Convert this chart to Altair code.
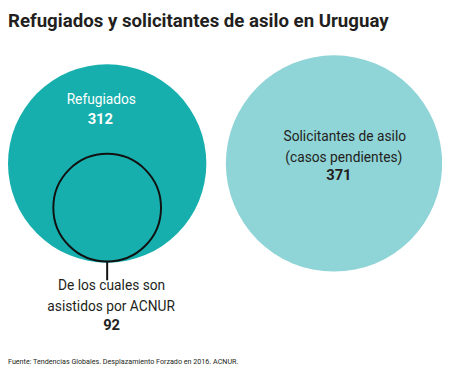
import altair as alt
import pandas as pd

# ---- data ----
title_text = "Refugiados y solicitantes de asilo en Uruguay"
source_text = "Fuente: Tendencias Globales. Desplazamiento Forzado en 2016. ACNUR."
categories = ["Refugiados", "Solicitantes de asilo", "Asistidos por ACNUR"]
values = [312, 371, 92]
label_lines = [
    ["Refugiados"],
    ["Solicitantes de asilo", "(casos pendientes)"],
    ["De los cuales son", "asistidos por ACNUR"],
]

# ---- layout (pixels inside the plot area) ----
W, H = 442, 363
centers_x = [101, 332, 101]
centers_y = [155, 155, 200]
FONT = "Roboto"
TEAL = "#17afad"
LIGHT = "#8fd4d7"
DARK = "#231f20"

circles = pd.DataFrame({
    "cat": categories,
    "value": values,
    "cx": centers_x,
    "cy": centers_y,
})

xs = alt.X("cx:Q", scale=alt.Scale(domain=[0, W], nice=False, zero=False), axis=None)
ys = alt.Y("cy:Q", scale=alt.Scale(domain=[0, H], nice=False, zero=False, reverse=True), axis=None)
size_scale = alt.Scale(type="linear", domain=[0, 312], range=[0, 202 * 202], zero=True)

big = alt.Chart(circles.iloc[:2]).mark_point(shape="circle", filled=True, opacity=1, strokeWidth=0).encode(
    x=xs, y=ys,
    size=alt.Size("value:Q", scale=size_scale, legend=None),
    color=alt.Color("cat:N", scale=alt.Scale(domain=categories[:2], range=[TEAL, LIGHT]), legend=None),
)

inner = alt.Chart(circles.iloc[2:]).mark_point(shape="circle", filled=False, opacity=1, strokeWidth=2, color="#111111").encode(
    x=xs, y=ys,
    size=alt.Size("value:Q", scale=size_scale, legend=None),
)

leader = alt.Chart(circles.iloc[2:]).mark_rule(color="#111111", strokeWidth=2).encode(
    x=alt.X("cx:Q", scale=alt.Scale(domain=[0, W], nice=False, zero=False), axis=None),
    y=alt.value(255), y2=alt.value(274),
)


def txt(s, x, y, size=14, bold=False, color=DARK, align="center", baseline="middle"):
    return alt.Chart(pd.DataFrame({"t": [s]})).mark_text(
        font=FONT, fontSize=size, fontWeight="bold" if bold else "normal",
        color=color, align=align, baseline=baseline,
    ).encode(text="t:N", x=alt.value(x), y=alt.value(y))


layers = [
    big, inner, leader,
    txt(title_text, 0, 16, size=19, bold=True, align="left", baseline="alphabetic"),
    txt(label_lines[0][0], 95, 90, color="white"),
    txt(str(values[0]), 94, 109.5, size=15, bold=True, color="white"),
    txt(label_lines[1][0], 343, 128.5),
    txt(label_lines[1][1], 342, 149),
    txt(str(values[1]), 337, 167, size=15, bold=True),
    txt(label_lines[2][0], 105.5, 280),
    txt(label_lines[2][1], 105, 301),
    txt(str(values[2]), 105.5, 319.5, size=15, bold=True),
    txt(source_text, 0, 357, size=7.3, align="left"),
]

chart = alt.layer(*layers).properties(
    width=W, height=H, padding=0,
    autosize=alt.AutoSizeParams(type="none"),
    background="white",
).configure_view(stroke=None)

chart.save("out.html", embed_options={"renderer": "svg", "actions": False})
